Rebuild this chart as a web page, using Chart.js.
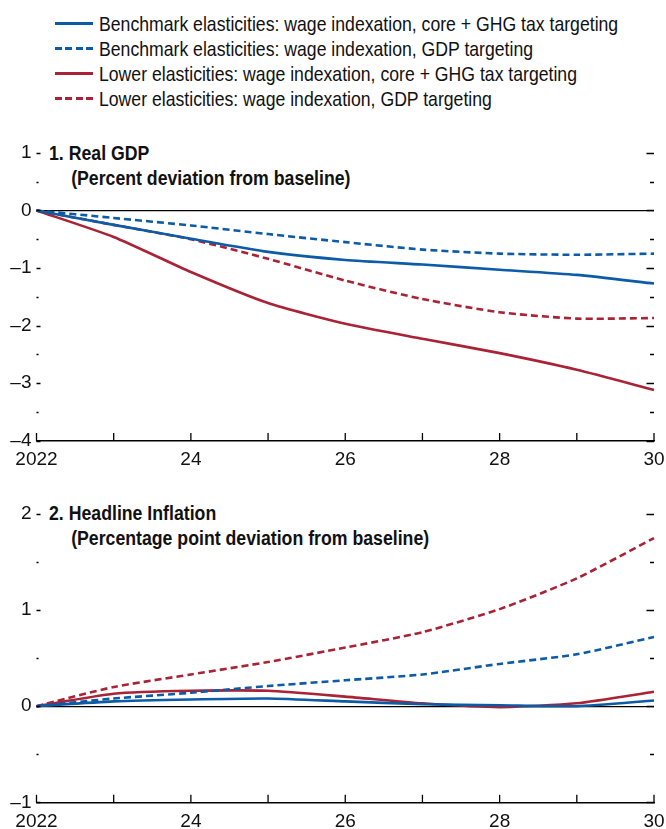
<!DOCTYPE html>
<html>
<head>
<meta charset="utf-8">
<script src="https://cdn.jsdelivr.net/npm/chart.js@4.4.1/dist/chart.umd.min.js"></script>
<style>
  html, body { margin: 0; padding: 0; background: #fff; }
  body { width: 666px; height: 829px; position: relative; overflow: hidden;
         font-family: 'Liberation Sans', Arial, sans-serif; color: #111; }
  .cv { position: absolute; left: 0; }
  #legend { position: absolute; left: 55px; top: 11px; }
  .lg { height: 25px; display: flex; align-items: center; white-space: nowrap; }
  .lg .sw { flex: none; width: 38px; height: 3px; margin-right: 6px; }
  .lg .tx { display: inline-block; font-size: 21px; transform: scaleX(0.84); transform-origin: 0 50%; }
  .title { position: absolute; font-weight: bold; font-size: 20px; line-height: 25px; white-space: nowrap;
           transform: scaleX(0.885); transform-origin: 0 0; }
</style>
</head>
<body>
<div id="legend"></div>
<div class="title" style="left:49px; top:141px;">1. Real GDP<br><span style="margin-left:25px">(Percent deviation from baseline)</span></div>
<div class="title" style="left:49px; top:501px;">2. Headline Inflation<br><span style="margin-left:25px">(Percentage point deviation from baseline)</span></div>
<canvas id="c1" class="cv" style="top:130px"></canvas>
<canvas id="c2" class="cv" style="top:490px"></canvas>
<script>
// ---- data ----
const years = ['2022','2023','2024','2025','2026','2027','2028','2029','2030'];
const seriesNames = [
  'Benchmark elasticities: wage indexation, core + GHG tax targeting',
  'Benchmark elasticities: wage indexation, GDP targeting',
  'Lower elasticities: wage indexation, core + GHG tax targeting',
  'Lower elasticities: wage indexation, GDP targeting'
];
// Panel 1: Real GDP (percent deviation from baseline)
const gdpBenchCore  = [0, -0.25, -0.49, -0.72, -0.86, -0.94, -1.03, -1.12, -1.27];
const gdpBenchGdp   = [0, -0.13, -0.26, -0.41, -0.55, -0.68, -0.75, -0.77, -0.75];
const gdpLowerCore  = [0, -0.46, -1.07, -1.61, -1.97, -2.23, -2.48, -2.77, -3.12];
const gdpLowerGdp   = [0, -0.25, -0.50, -0.84, -1.22, -1.54, -1.77, -1.88, -1.87];
// Panel 2: Headline inflation (percentage point deviation from baseline)
const inflBenchCore = [0, 0.05, 0.07, 0.08, 0.05, 0.02, 0.01, 0.00, 0.06];
const inflBenchGdp  = [0, 0.08, 0.14, 0.21, 0.27, 0.33, 0.44, 0.54, 0.72];
const inflLowerCore = [0, 0.13, 0.16, 0.16, 0.10, 0.03, -0.01, 0.03, 0.15];
const inflLowerGdp  = [0, 0.20, 0.33, 0.46, 0.61, 0.77, 1.01, 1.33, 1.75];
const gdpRange = [-4, 1];
const inflRange = [-1, 2];

// ---- styles ----
const BLUE = '#0b5ba6';
const RED = '#aa2235';
const styles = [
  { color: BLUE, dash: [] },
  { color: BLUE, dash: [7, 4] },
  { color: RED, dash: [] },
  { color: RED, dash: [7, 4] }
];
const FONT = "'Liberation Sans', Arial, sans-serif";

// legend
const lg = document.getElementById('legend');
seriesNames.forEach((n, i) => {
  const row = document.createElement('div');
  row.className = 'lg';
  const sw = document.createElement('span');
  sw.className = 'sw';
  const c = styles[i].color;
  sw.style.background = styles[i].dash.length
    ? `repeating-linear-gradient(to right, ${c} 0 7px, transparent 7px 10.5px)`
    : c;
  row.appendChild(sw);
  const tx = document.createElement('span');
  tx.className = 'tx';
  tx.textContent = n;
  row.appendChild(tx);
  lg.appendChild(row);
});

function fmt(v) {
  if (Math.abs(v - Math.round(v)) > 1e-9) return '';
  return v < 0 ? '\u2013' + Math.abs(v) : String(v);
}

const innerTicks = {
  id: 'innerTicks',
  afterDatasetsDraw(chart) {
    const ctx = chart.ctx, a = chart.chartArea;
    const ys = chart.scales.y, xs = chart.scales.x;
    ctx.save();
    ctx.strokeStyle = '#000';
    ctx.lineWidth = 1.3;
    ys.ticks.forEach(t => {
      const y = Math.round(ys.getPixelForValue(t.value)) + 0.5;
      const major = Math.abs(t.value - Math.round(t.value)) < 1e-9;
      ctx.beginPath();
      ctx.moveTo(a.left, y); ctx.lineTo(a.left + (major ? 4 : 2), y);
      ctx.moveTo(a.right - (major ? 7.5 : 4), y); ctx.lineTo(a.right, y);
      ctx.stroke();
    });
    xs.ticks.forEach((t, i) => {
      const x = xs.getPixelForTick(i);
      ctx.beginPath();
      ctx.moveTo(x, a.bottom); ctx.lineTo(x, a.bottom - 7.5);
      ctx.stroke();
    });
    ctx.restore();
  }
};

function makeChart(id, height, padTop, xHeight, range, data) {
  const cv = document.getElementById(id);
  cv.width = 666; cv.height = height;
  cv.style.width = '666px'; cv.style.height = height + 'px';
  return new Chart(cv, {
    type: 'line',
    data: {
      labels: years,
      datasets: data.map((d, i) => ({
        label: seriesNames[i],
        data: d,
        borderColor: styles[i].color,
        borderDash: styles[i].dash,
        borderWidth: 2.6,
        pointRadius: 0,
        tension: 0.2,
        fill: false
      }))
    },
    options: {
      responsive: false,
      animation: false,
      devicePixelRatio: 1,
      layout: { padding: { top: padTop, right: 12, left: 0, bottom: 0 } },
      plugins: { legend: { display: false }, tooltip: { enabled: false }, title: { display: false } },
      scales: {
        x: {
          type: 'category',
          offset: false,
          grid: { display: false, drawTicks: false },
          border: { display: true, color: '#000', width: 1.5 },
          ticks: {
            autoSkip: false, maxRotation: 0, padding: 8, color: '#111',
            font: { family: FONT, size: 19 },
            callback: function(v, i) {
              const y = years[i];
              if (i % 2 !== 0) return '';
              return i === 0 ? y : y.slice(2);
            }
          },
          afterFit: s => { s.height = xHeight; s.paddingLeft = 0; s.paddingRight = 0; }
        },
        y: {
          min: range[0], max: range[1],
          grid: {
            drawTicks: false,
            color: c => (c.tick && c.tick.value === 0) ? '#000' : 'rgba(0,0,0,0)',
            lineWidth: 1.2
          },
          border: { display: false },
          ticks: {
            stepSize: 0.5, padding: 5, color: '#111',
            font: { family: FONT, size: 19 },
            callback: v => fmt(v)
          },
          afterFit: s => { s.width = 36.5; s.paddingTop = 0; s.paddingBottom = 0; }
        }
      }
    },
    plugins: [innerTicks]
  });
}

makeChart('c1', 350, 23, 39.5, gdpRange, [gdpBenchCore, gdpBenchGdp, gdpLowerCore, gdpLowerGdp]);
makeChart('c2', 339, 24, 26.7, inflRange, [inflBenchCore, inflBenchGdp, inflLowerCore, inflLowerGdp]);
</script>
</body>
</html>
